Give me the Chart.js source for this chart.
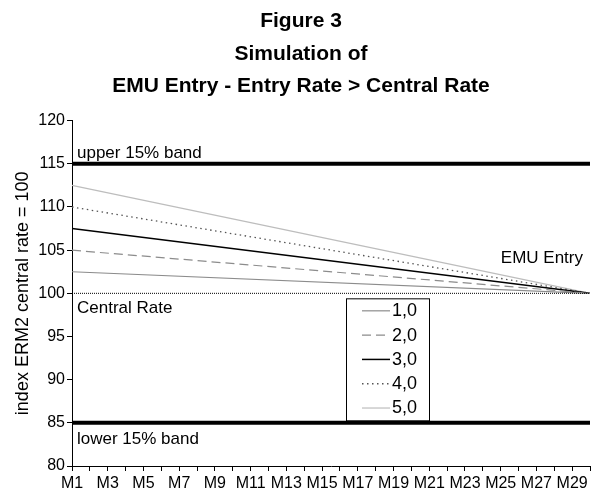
<!DOCTYPE html>
<html>
<head>
<meta charset="utf-8">
<script src="https://cdn.jsdelivr.net/npm/chart.js@4/dist/chart.umd.min.js"></script>
<style>
  html, body { margin: 0; padding: 0; background: #fff; }
  #wrap { width: 597px; height: 494px; }
</style>
</head>
<body>
<div id="wrap"><canvas id="grafico"></canvas></div>
<script>
// Datos del gráfico
const months = ['M1','M2','M3','M4','M5','M6','M7','M8','M9','M10','M11','M12','M13','M14','M15',
                'M16','M17','M18','M19','M20','M21','M22','M23','M24','M25','M26','M27','M28','M29','M30'];
const seriesNames = ['1,0', '2,0', '3,0', '4,0', '5,0'];
const startValues = [102.5, 105, 107.5, 110, 112.5]; // M1
const entryValues = [100, 100, 100, 100, 100];        // M30 (EMU entry)
const upperBand = 115;
const centralRate = 100;
const lowerBand = 85;
const yTicks = [80, 85, 90, 95, 100, 105, 110, 115, 120];

const FONT = "'Liberation Sans', Arial, Helvetica, sans-serif";

// Estilos de las series
const seriesStyles = [
    { color: '#8c8c8c', width: 1.2, dash: [] },
    { color: '#8c8c8c', width: 1.2, dash: [9, 5] },
    { color: '#000000', width: 1.5, dash: [] },
    { color: '#555555', width: 1.3, dash: [1.5, 3.5] },
    { color: '#bdbdbd', width: 1.2, dash: [] }
];

// Solo primer y último punto: la librería une los extremos (spanGaps)
function endpoints(a, b) {
    const d = months.map(() => null);
    d[0] = a;
    d[d.length - 1] = b;
    return d;
}

const datasets = [
    { label: 'upper', data: endpoints(upperBand, upperBand), borderColor: '#000', borderWidth: 4, pointRadius: 0, spanGaps: true, fill: false },
    { label: 'central', data: endpoints(centralRate, centralRate), borderColor: '#000', borderWidth: 1, borderDash: [1, 1], pointRadius: 0, spanGaps: true, fill: false },
    { label: 'lower', data: endpoints(lowerBand, lowerBand), borderColor: '#000', borderWidth: 4, pointRadius: 0, spanGaps: true, fill: false }
];
seriesNames.forEach((name, i) => {
    datasets.push({
        label: name,
        data: endpoints(startValues[i], entryValues[i]),
        borderColor: seriesStyles[i].color,
        borderWidth: seriesStyles[i].width,
        borderDash: seriesStyles[i].dash,
        pointRadius: 0,
        spanGaps: true,
        fill: false,
        isSeries: true
    });
});

// Textos y leyenda dibujados dentro del área del gráfico
const annotations = {
    id: 'annotations',
    afterDatasetsDraw(chart) {
        const { ctx, chartArea, scales } = chart;
        const y = scales.y;
        ctx.save();
        ctx.fillStyle = '#000';
        ctx.font = '17px ' + FONT;
        ctx.textBaseline = 'alphabetic';
        ctx.textAlign = 'left';
        ctx.fillText('upper 15% band', chartArea.left + 5, y.getPixelForValue(upperBand) - 6);
        ctx.fillText('Central Rate', chartArea.left + 5, y.getPixelForValue(centralRate) + 20);
        ctx.fillText('lower 15% band', chartArea.left + 5, y.getPixelForValue(lowerBand) + 21);
        ctx.textAlign = 'right';
        ctx.fillText('EMU Entry', chartArea.right - 7, y.getPixelForValue(centralRate) - 30);

        // leyenda
        const boxX = 346, boxY = y.getPixelForValue(centralRate) + 5, boxW = 83, rowH = 24.3;
        const boxH = rowH * seriesNames.length + 0.5;
        ctx.fillStyle = '#fff';
        ctx.fillRect(boxX, boxY, boxW, boxH);
        ctx.strokeStyle = '#000';
        ctx.lineWidth = 1;
        ctx.strokeRect(boxX + 0.5, boxY + 0.5, boxW, boxH);
        ctx.font = '18px ' + FONT;
        ctx.textAlign = 'left';
        ctx.textBaseline = 'middle';
        chart.data.datasets.filter(d => d.isSeries).forEach((d, i) => {
            const cy = boxY + 12 + i * rowH;
            ctx.beginPath();
            ctx.strokeStyle = d.borderColor;
            ctx.lineWidth = d.borderWidth;
            ctx.setLineDash(d.borderDash);
            ctx.moveTo(boxX + 16, cy + 0.5);
            ctx.lineTo(boxX + 44, cy + 0.5);
            ctx.stroke();
            ctx.setLineDash([]);
            ctx.fillStyle = '#000';
            ctx.fillText(d.label, boxX + 46, cy + 1);
        });
        ctx.restore();
    }
};

const ctx = document.getElementById('grafico').getContext('2d');
new Chart(ctx, {
    type: 'line',
    data: { labels: months, datasets: datasets },
    plugins: [annotations],
    options: {
        responsive: true,
        maintainAspectRatio: false,
        animation: false,
        layout: { padding: { left: 12, right: 7, top: 2, bottom: 0 } },
        plugins: {
            legend: { display: false },
            tooltip: { enabled: false },
            title: {
                display: true,
                text: ['Figure 3', 'Simulation of', 'EMU Entry - Entry Rate > Central Rate'],
                color: '#000',
                font: { family: FONT, size: 21, weight: 'bold', lineHeight: 1.55 },
                padding: { top: 3, bottom: 18 }
            }
        },
        scales: {
            x: {
                offset: false,
                afterFit: s => { s.height = 28; },
                grid: { drawOnChartArea: false, drawTicks: true, tickLength: 5, color: '#000' },
                border: { display: true, color: '#000', width: 1 },
                ticks: {
                    autoSkip: false,
                    maxRotation: 0,
                    minRotation: 0,
                    color: '#000',
                    padding: 3,
                    font: { family: FONT, size: 16 },
                    callback: function (val, i) { return i % 2 === 0 && i < months.length - 1 ? months[i] : ''; }
                }
            },
            y: {
                min: 80,
                max: 120,
                afterBuildTicks: s => { s.ticks = yTicks.map(v => ({ value: v })); },
                afterFit: s => { s.width = 60; },
                grid: { drawOnChartArea: false, drawTicks: true, tickLength: 5, color: '#000' },
                border: { display: true, color: '#000', width: 1 },
                ticks: { color: '#000', padding: 2, font: { family: FONT, size: 16 } },
                title: {
                    display: true,
                    text: 'index ERM2 central rate = 100',
                    color: '#000',
                    font: { family: FONT, size: 18 },
                    padding: 0
                }
            }
        }
    }
});
</script>
</body>
</html>
